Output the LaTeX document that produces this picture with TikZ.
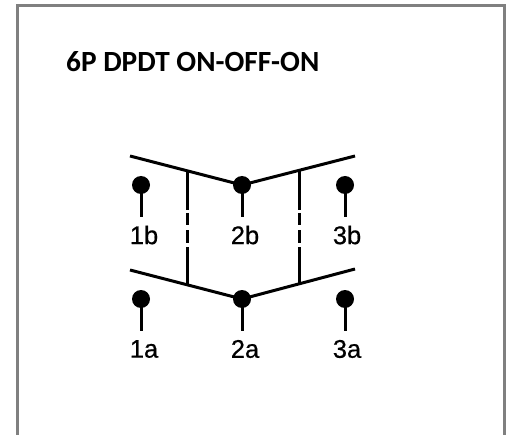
\documentclass[tikz,border=0pt]{standalone}
\usepackage{fontspec}
\setmainfont{Liberation Sans}
\newfontfamily\titlefont{Carlito}
\newfontfamily\labfont[FakeBold=0.6]{Liberation Sans}
\tikzset{
  wire/.style={line width=3pt,black},
  frameline/.style={line width=3pt,color=black!50},
  dot/.style={circle,fill=black,inner sep=0pt,minimum size=18pt},
  lab/.style={font=\labfont\fontsize{25.5}{27}\selectfont,inner sep=0pt,text=black},
  title/.style={font=\titlefont\bfseries\fontsize{29.3}{32}\selectfont,anchor=west,inner sep=0pt}
}
\begin{document}
\begin{tikzpicture}[x=1pt,y=-1pt]
\useasboundingbox (0,0) rectangle (510,435);
\coordinate (fb1) at (17,435);
\coordinate (ft1) at (17,5.5);
\coordinate (ft2) at (504,5.5);
\coordinate (fb2) at (504,435);
\draw[frameline,line cap=butt] (fb1) -- (ft1) -- (ft2) -- (fb2);
\node[title] (head) at (66,62) {6P DPDT ON-OFF-ON};
% upper row
\node[dot] (d1b) at (141,185) {};
\node[dot] (d2b) at (242,185) {};
\node[dot] (d3b) at (345,185) {};
\node[lab] (l1b) at (144,235) {1b};
\node[lab] (l2b) at (245,235) {2b};
\node[lab] (l3b) at (347,235) {3b};
\coordinate (s1b) at (141,217);
\coordinate (s2b) at (242,217);
\coordinate (s3b) at (345,217);
\draw[wire] (d1b.center) -- (s1b);
\draw[wire] (d2b.center) -- (s2b);
\draw[wire] (d3b.center) -- (s3b);
% lower row
\node[dot] (d1a) at (141,299) {};
\node[dot] (d2a) at (242,299) {};
\node[dot] (d3a) at (345,299) {};
\node[lab] (l1a) at (144,349) {1a};
\node[lab] (l2a) at (245,349) {2a};
\node[lab] (l3a) at (347,349) {3a};
\coordinate (s1a) at (141,331);
\coordinate (s2a) at (242,331);
\coordinate (s3a) at (345,331);
\draw[wire] (d1a.center) -- (s1a);
\draw[wire] (d2a.center) -- (s2a);
\draw[wire] (d3a.center) -- (s3a);
% switch levers
\coordinate (ub1) at (130,156);
\coordinate (ub2) at (355,156);
\coordinate (ua1) at (130,270);
\coordinate (ua2) at (355,269);
\draw[wire] (ub1) -- (d2b.center) -- (ub2);
\draw[wire] (ua1) -- (d2a.center) -- (ua2);
% mechanical links
\coordinate (t1) at (187,170.5);
\coordinate (b1) at (187,285);
\coordinate (t2) at (299,170.5);
\coordinate (b2) at (299,284);
\draw[wire] (t1) -- (187,210) (187,213) -- (187,225) (187,230) -- (187,243) (187,247) -- (b1);
\draw[wire] (t2) -- (299,210) (299,213) -- (299,225) (299,230) -- (299,243) (299,247) -- (b2);
\end{tikzpicture}
\end{document}
